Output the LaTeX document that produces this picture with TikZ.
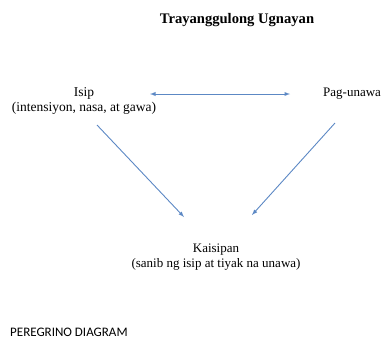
\documentclass[tikz,border=0pt]{standalone}
\usepackage{fontspec}
\setmainfont{Liberation Serif}
\newfontfamily\labelsans{Carlito}
\definecolor{arrowblue}{RGB}{92,136,196}
\begin{document}
\begin{tikzpicture}[x=1pt,y=-1pt,
  lbl/.style={font=\fontsize{13}{15}\selectfont, align=center, inner sep=0pt},
  conn/.style={draw=arrowblue, line width=0.9pt, -latex}]
\useasboundingbox (0,0) rectangle (388,338);
\node[lbl, font=\bfseries\fontsize{14.6}{16}\selectfont] (title) at (237,20) {Trayanggulong Ugnayan};
\node[lbl, font=\fontsize{13.5}{15}\selectfont] (isip) at (84,101) {Isip\\(intensiyon, nasa, at gawa)};
\node[lbl, anchor=west] (pag) at (323,94) {Pag-unawa};
\node[lbl] (kai) at (216,257) {Kaisipan\\(sanib ng isip at tiyak na unawa)};
\node[anchor=west, inner sep=0pt, font=\labelsans\fontsize{13}{14}\selectfont] (foot) at (10,332) {PEREGRINO DIAGRAM};
\coordinate (a1) at (150,94);
\coordinate (a2) at (290,94);
\draw[conn, latex-latex] (a1) -- (a2);
\coordinate (b1) at (97,125);
\coordinate (b2) at (184,217);
\draw[conn] (b1) -- (b2);
\coordinate (c1) at (335,123);
\coordinate (c2) at (252,215);
\draw[conn] (c1) -- (c2);
\end{tikzpicture}
\end{document}
